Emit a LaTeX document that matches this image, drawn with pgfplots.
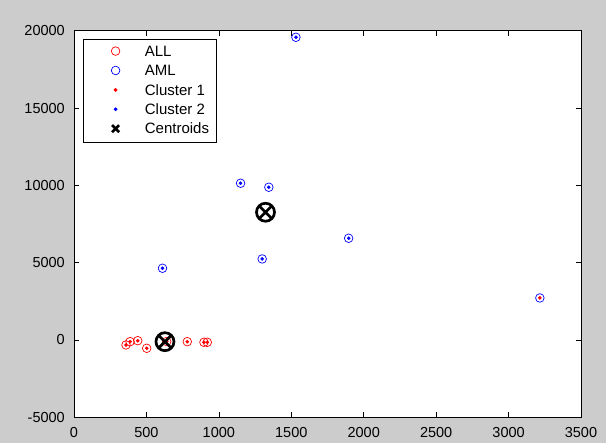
\documentclass[border=0pt]{standalone}
\usepackage{fontspec}
\setmainfont{Liberation Sans}
\usepackage{pgfplots}
\pgfplotsset{compat=1.18}
\definecolor{bg}{RGB}{204,204,204}
\pgfplotsset{
  leg/.style={legend image code/.code={\path[draw=none,fill=none] (-25pt,-10.7pt) rectangle (29.3pt,8.7pt); \draw[##1] plot coordinates {(0pt,0pt)};}},
  legc/.style={legend image code/.code={\path[draw=none,fill=none] (-25pt,-10.7pt) rectangle (29.3pt,8.7pt); \draw[##1,mark size=5pt] plot coordinates {(0pt,0pt)};}},
}
\begin{document}
\begin{tikzpicture}
\fill[bg] (0,0) rectangle (606pt,443pt);
\useasboundingbox (0,0) rectangle (606pt,443pt);
\begin{axis}[
  at={(74pt,25.7pt)}, anchor=south west,
  width=507pt, height=386.6pt, scale only axis,
  xmin=0, xmax=3500, ymin=-5000, ymax=20000,
  xtick={0,500,...,3500}, ytick={-5000,0,5000,10000,15000,20000},
  tick align=inside, major tick length=5pt,
  axis line style={line width=0.6pt},
  every tick/.style={black, line width=0.6pt},
  axis background/.style={fill=white},
  scaled ticks=false,
  /pgf/number format/1000 sep={},
  /pgf/number format/assume math mode=true,
  tick label style={font=\fontsize{14.5}{17}\selectfont, text=black},
  yticklabel style={inner sep=0pt, anchor=east, xshift=-9pt},
  xticklabel style={inner sep=0pt, anchor=north, yshift=-9.4pt},
  legend cell align=left,
  legend style={at={(0.01834,0.9778)}, anchor=north west, draw=black, line width=0.6pt,
    inner xsep=7pt, inner ysep=2.8pt, font=\fontsize{15}{17}\selectfont,
    nodes={inner sep=0pt, text height=10.4pt, text depth=0pt},
    row sep=0pt, column sep=0pt},
]
% ALL (red circles)
\addplot[only marks, mark=o, draw=red, mark size=4.3pt, line width=0.7pt, leg] coordinates {
 (359,-323) (387,-110) (440,-45) (502,-537) (640,-100) (782,-110) (897,-150) (920,-150)
};
\addlegendentry{ALL}
% AML (blue circles)
\addplot[only marks, mark=o, draw=blue, mark size=4.3pt, line width=0.7pt, leg] coordinates {
 (1532,19575) (1150,10136) (1345,9877) (1896,6578) (1299,5240) (611,4638) (3216,2717)
};
\addlegendentry{AML}
% Cluster 1
\addplot[only marks, mark=*, draw=red, fill=red, mark size=1.6pt, leg] coordinates {
 (359,-323) (387,-110) (440,-45) (502,-537) (640,-100) (782,-110) (897,-150) (920,-150) (3216,2717)
};
\addlegendentry{Cluster 1}
% Cluster 2
\addplot[only marks, mark=*, draw=blue, fill=blue, mark size=1.6pt, leg] coordinates {
 (1532,19575) (1150,10136) (1345,9877) (1896,6578) (1299,5240) (611,4638)
};
\addlegendentry{Cluster 2}
% Centroids
\addplot[only marks, mark=x, draw=black, mark size=8pt, line width=2.7pt, legc] coordinates {
 (628,-110) (1322,8260)
};
\addlegendentry{Centroids}
\addplot[only marks, mark=o, draw=black, mark size=9pt, line width=2.7pt, forget plot] coordinates {
 (628,-110) (1322,8260)
};
\end{axis}
\end{tikzpicture}
\end{document}
